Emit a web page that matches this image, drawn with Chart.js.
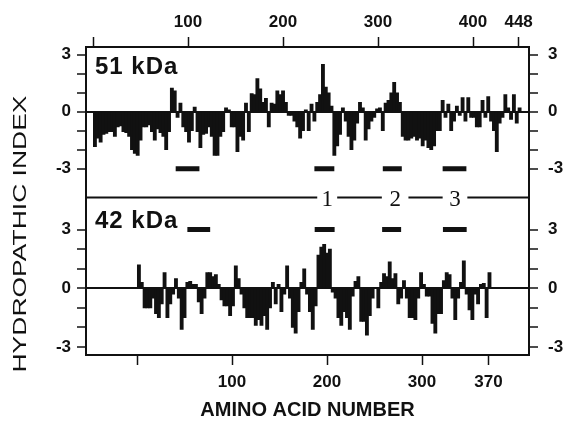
<!DOCTYPE html>
<html>
<head>
<meta charset="utf-8">
<script src="https://cdn.jsdelivr.net/npm/chart.js@4.4.1/dist/chart.umd.min.js"></script>
<style>
  html, body { margin: 0; padding: 0; background: #fff; }
</style>
</head>
<body>
<canvas id="hydro" width="567" height="430"></canvas>
<script>
// hydropathic index, mean over windows of 3 residues (1-3, 4-6, ...)
const top51 = [
  -1.84, -1.4, -1.6, -1.2, -1.15, -1.05, -1.05, -1.3, -0.8, -0.75,
  -1.05, -1.1, -1.3, -2.0, -2.2, -2.3, -1.5, -0.8, -0.8, -0.7,
  -1.05, -1.5, -0.9, -1.1, -1.3, -2.0, -1.05, 1.25, 1.1, -0.3,
  0.45, -0.8, -1.05, -1.6, -1.0, 0.25, -1.05, -1.9, -1.2, -1.15,
  -0.8, -1.3, -2.3, -2.3, -1.3, -1.05, 0.2, 0.1, -0.8, -0.8,
  -2.1, -1.3, -1.5, 0.45, -1.05, 0.95, 0.9, 1.75, 1.2, 0.5,
  0.7, -0.8, 0.45, 0.4, 1.1, 0.9, 1.1, 0.5, -0.2, -0.2,
  -0.5, -0.8, -1.4, -1.0, 0.1, -1.0, 0.4, -0.5, 0.5, 0.9,
  2.5, 1.3, 1.0, 0.3, -2.3, -1.8, -1.2, 0.2, -0.5, -1.3,
  -2.0, -1.5, -0.6, 0.5, 0.2, -1.5, -0.9, -0.5, -0.3, 0.15,
  0.2, -1.0, 0.45, 0.6, 1.0, 1.55, 1.0, 0.5, -1.3, -1.5,
  -1.5, -1.4, -1.3, -1.5, -1.4, -1.8, -1.5, -1.9, -2.0, -1.8,
  -1.0, -1.0, 0.6, -0.3, 0.4, -1.0, -0.5, 0.3, -0.2, 0.75,
  -0.5, 0.75, -0.3, -0.3, -0.8, -0.8, 0.6, -0.3, 0.8, -0.5,
  -1.0, -2.1, -0.6, -0.3, 0.9, 0.2, -0.4, 0.9, -0.6, 0.2
];
const bot42 = [
  1.2, 0.3, -1.0, -1.0, -1.0, -0.5, -1.3, -1.5, -0.8, 0.8,
  -1.5, -0.8, -0.3, 0.5, -0.5, -2.1, -1.5, 0.3, 0.35, 0.2,
  0.2, -0.7, -1.3, -0.5, 0.8, 0.8, 0.6, 0.7, 0.2, -0.6,
  -0.9, -0.9, -1.4, -0.9, 1.15, 0.5, -0.3, -1.0, -1.5, -1.5,
  -1.5, -1.9, -1.6, -1.9, -1.4, -2.1, -1.0, 0.3, -0.8, 0.2,
  -1.2, -0.3, 1.15, -0.5, -2.0, -2.3, -1.2, 0.3, 1.0, -0.3,
  -1.2, -2.1, -0.9, 1.7, 2.1, 2.25, 1.8, 2.0, -0.2, -0.5,
  -1.5, -1.9, -1.2, -1.5, -2.1, -0.4, 0.35, 0.6, -1.7, -1.7,
  -2.4, -1.4, -0.5, 0.05, -1.0, 0.3, 0.75, 0.6, 1.35, 0.5,
  0.75, -0.8, -0.5, 0.4, -0.5, -1.5, -1.5, -1.6, -0.5, 0.8,
  0.2, -0.4, -0.4, -1.8, -2.3, -1.3, -1.3, 0.4, 0.8, 0.7,
  -0.5, -1.6, -0.5, 0.3, 1.4, -0.3, -1.1, -1.6, -0.3, -0.8,
  0.2, 0.25, -1.5, 0.8
];
const topTicks = [1, 100, 200, 300, 400, 448];
const botTicks = [1, 100, 200, 300, 370];
const yTicks = [-3, -2, -1, 0, 1, 2, 3];

// marked stretches (residue numbers), drawn at -3 (51 kDa) and +3 (42 kDa)
const topSegStart = [87, 233, 305, 368];
const topSegEnd = [112, 254, 325, 393];
const botSegStart = [53, 187, 258, 322];
const botSegEnd = [77, 208, 278, 347];
const regionLabels = ['1', '2', '3'];
const regionGaps = [[236, 257], [304, 332], [368, 394]];

const BLACK = '#111';
const SANS = '"Liberation Sans", Arial, sans-serif';

const toPts = vals => vals.map((v, i) => ({ x: i * 3 + 2, y: v }));
function segPts(starts, ends, yv) {
  const pts = [];
  starts.forEach((s, i) => {
    pts.push({ x: s, y: yv }, { x: ends[i], y: yv });
    if (i < starts.length - 1) pts.push({ x: (ends[i] + starts[i + 1]) / 2, y: null });
  });
  return pts;
}

function yAxis(pos, stackId, min, max, weight, zeroLine) {
  return {
    type: 'linear', position: pos, stack: stackId, stackWeight: weight,
    min: min, max: max, offset: false,
    afterBuildTicks: s => { s.ticks = yTicks.map(v => ({ value: v })); },
    afterFit: s => { s.width = pos === 'left' ? 86 : 38; },
    border: { display: true, color: BLACK, width: 2 },
    grid: {
      drawOnChartArea: zeroLine,
      color: c => (c.tick && c.tick.value === 0) ? BLACK : 'rgba(0,0,0,0)',
      lineWidth: 2, tickLength: 9, tickColor: BLACK, tickWidth: 1.5
    },
    ticks: {
      autoSkip: false, color: BLACK, padding: pos === 'left' ? 6 : 10,
      font: { family: SANS, size: 17, weight: 'bold' },
      callback: v => (v % 3 === 0 ? String(v) : '')
    }
  };
}

function xAxis(pos, min, max, vals, height) {
  return {
    type: 'linear', position: pos, min: min, max: max, offset: false,
    afterBuildTicks: s => { s.ticks = vals.map(v => ({ value: v })); },
    afterFit: s => { s.height = height; },
    border: { display: true, color: BLACK, width: 2 },
    grid: { drawOnChartArea: false, offset: false, tickLength: 10, tickColor: BLACK, tickWidth: 1.5 },
    ticks: {
      autoSkip: false, maxRotation: 0, color: BLACK, padding: pos === 'top' ? 4 : 7,
      font: { family: SANS, size: 17, weight: 'bold' },
      callback: v => (v === 1 ? '' : String(v))
    }
  };
}

const decor = {
  id: 'decor',
  afterDraw(chart) {
    const ctx = chart.ctx;
    const area = chart.chartArea;
    const xT = chart.scales.xTop;
    const yT = chart.scales.yTop;
    const yB = chart.scales.yBot;
    const yDiv = yT.bottom;
    ctx.save();
    ctx.strokeStyle = BLACK;
    ctx.lineWidth = 2;
    // divider between panels, broken where the region numbers sit
    let x0 = area.left;
    ctx.beginPath();
    regionGaps.forEach(g => {
      ctx.moveTo(x0, yDiv);
      ctx.lineTo(xT.getPixelForValue(g[0]), yDiv);
      x0 = xT.getPixelForValue(g[1]);
    });
    ctx.moveTo(x0, yDiv);
    ctx.lineTo(area.right, yDiv);
    ctx.stroke();

    ctx.fillStyle = BLACK;
    ctx.font = '23px "Liberation Serif", "Times New Roman", serif';
    ctx.textAlign = 'center';
    ctx.textBaseline = 'middle';
    regionLabels.forEach((t, i) => {
      const cx = (xT.getPixelForValue(regionGaps[i][0]) + xT.getPixelForValue(regionGaps[i][1])) / 2;
      ctx.fillText(t, cx, yDiv + 2);
    });

    ctx.font = 'bold 24px ' + SANS;
    ctx.letterSpacing = '1px';
    ctx.textAlign = 'left';
    ctx.fillText('51 kDa', area.left + 9, yT.top + 20);
    ctx.fillText('42 kDa', area.left + 9, yB.top + 24);
    ctx.letterSpacing = '0px';

    // y title spanning both panels
    ctx.font = '18px ' + SANS;
    const txt = 'HYDROPATHIC INDEX';
    const w = ctx.measureText(txt).width;
    ctx.translate(21, 234);
    ctx.rotate(-Math.PI / 2);
    ctx.scale(277 / w, 1);
    ctx.textAlign = 'center';
    ctx.fillText(txt, 0, 0);
    ctx.restore();
  }
};

new Chart(document.getElementById('hydro'), {
  type: 'bar',
  data: {
    datasets: [
      { label: '51 kDa', data: toPts(top51), xAxisID: 'xTop', yAxisID: 'yTop',
        backgroundColor: BLACK, borderWidth: 0, barThickness: 3.2, grouped: false },
      { label: '42 kDa', data: toPts(bot42), xAxisID: 'xBot', yAxisID: 'yBot',
        backgroundColor: BLACK, borderWidth: 0, barThickness: 3.2, grouped: false },
      { type: 'line', data: segPts(topSegStart, topSegEnd, -3), xAxisID: 'xTop', yAxisID: 'yTop',
        borderColor: BLACK, borderWidth: 5, pointRadius: 0, spanGaps: false, borderCapStyle: 'butt' },
      { type: 'line', data: segPts(botSegStart, botSegEnd, 3), xAxisID: 'xBot', yAxisID: 'yBot',
        borderColor: BLACK, borderWidth: 5, pointRadius: 0, spanGaps: false, borderCapStyle: 'butt' }
    ]
  },
  options: {
    responsive: false,
    animation: false,
    devicePixelRatio: 1,
    events: [],
    layout: { padding: 0 },
    plugins: { legend: { display: false }, tooltip: { enabled: false } },
    scales: {
      xTop: xAxis('top', -7.4, 458.9, topTicks, 47),
      xBot: Object.assign(xAxis('bottom', -53.7, 412.6, botTicks, 75), {
        title: { display: true, text: 'AMINO ACID NUMBER', color: BLACK,
                 font: { family: SANS, size: 20, weight: 'bold' }, padding: { top: 0, bottom: 8 } }
      }),
      yBot: yAxis('left', 'L', -3.41, 4.64, 157.5, true),
      yTop: yAxis('left', 'L', -4.52, 3.41, 150.5, true),
      yTopR: yAxis('right', 'R', -4.52, 3.41, 150.5, false),
      yBotR: yAxis('right', 'R', -3.41, 4.64, 157.5, false)
    }
  },
  plugins: [decor]
});
</script>
</body>
</html>
